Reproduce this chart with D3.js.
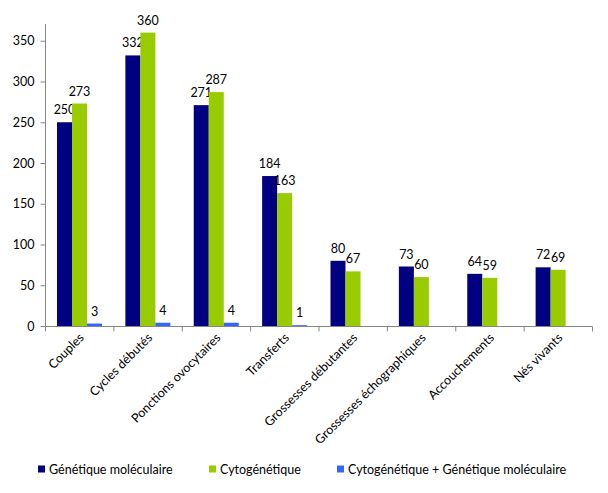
<!DOCTYPE html>
<html>
<head>
<meta charset="utf-8">
<script src="https://cdn.jsdelivr.net/npm/d3@7"></script>
<style>
body { margin:0; background:#fff; }
text { font-family: Lato, "Open Sans", sans-serif; }
</style>
</head>
<body>
<svg id="chart" width="608" height="493"></svg>
<script>
const categories = ["Couples", "Cycles débutés", "Ponctions ovocytaires", "Transferts", "Grossesses débutantes", "Grossesses échographiques", "Accouchements", "Nés vivants"];
const seriesNames = ["Génétique moléculaire", "Cytogénétique", "Cytogénétique + Génétique moléculaire"];
const molecular = [250, 332, 271, 184, 80, 73, 64, 72];
const cyto = [273, 360, 287, 163, 67, 60, 59, 69];
const both = [3, 4, 4, 1, null, null, null, null];
const yTicks = [0, 50, 100, 150, 200, 250, 300, 350];
const colors = ["#000080", "#99CC00", "#3366FF"];

const seriesValues = [molecular, cyto, both];
const svg = d3.select("#chart");
const FS = 12.5;

const x0 = d3.scaleBand().domain(categories).range([45.5, 592.5]).paddingInner(0).paddingOuter(0);
const x1 = d3.scaleBand().domain(seriesNames).range([11.5, 56.5]);
const y = d3.scaleLinear().domain([0, 400]).range([326, 0]);

// y axis
const yAxis = svg.append("g").attr("transform", "translate(45.5,0)")
  .call(d3.axisLeft(y).tickValues(yTicks).tickSize(5).tickSizeOuter(0).tickPadding(6));
yAxis.select(".domain").attr("d", `M0,${y(0)}V24`);
yAxis.selectAll("line, .domain").attr("stroke", "#868686");
yAxis.selectAll("text").attr("font-size", FS).attr("fill", "#000").attr("font-family", "Lato");

// x axis
const xAxis = svg.append("g").attr("transform", `translate(0,${y(0)+0.5})`);
xAxis.append("line").attr("x1", x0.range()[0]).attr("x2", x0.range()[1]).attr("stroke", "#868686");
const bounds = categories.map(c => x0(c)).concat([x0.range()[1]]);
xAxis.selectAll(".tk").data(bounds).join("line").attr("class", "tk")
  .attr("x1", d => d).attr("x2", d => d).attr("y1", 0).attr("y2", 5).attr("stroke", "#868686");
xAxis.selectAll(".cl").data(categories).join("text").attr("class", "cl")
  .attr("transform", d => `translate(${x0(d) + x0.bandwidth()/2 + 5},${12}) rotate(-45)`)
  .attr("text-anchor", "end").attr("font-size", FS).attr("fill", "#000").text(d => d);

// bars
seriesNames.forEach((s, si) => {
  const g = svg.append("g");
  const data = categories.map((c, i) => ({c, v: seriesValues[si][i]})).filter(d => d.v != null);
  g.selectAll("rect").data(data).join("rect")
    .attr("x", d => x0(d.c) + x1(s))
    .attr("y", d => y(d.v))
    .attr("width", x1.bandwidth())
    .attr("height", d => y(0) - y(d.v))
    .attr("fill", colors[si]);
  g.selectAll("text").data(data).join("text")
    .attr("x", d => x0(d.c) + x1(s) + x1.bandwidth()/2)
    .attr("y", d => y(d.v) - 8)
    .attr("text-anchor", "middle").attr("font-size", FS).attr("fill", "#000")
    .text(d => d.v);
});

// legend
const legendX = [38, 209, 337];
const lg = svg.append("g");
seriesNames.forEach((s, i) => {
  lg.append("rect").attr("x", legendX[i]).attr("y", 465.5).attr("width", 7).attr("height", 7).attr("fill", colors[i]);
  lg.append("text").attr("x", legendX[i] + 11).attr("y", 473.5).attr("font-size", FS).attr("fill", "#000").text(s);
});
</script>
</body>
</html>
